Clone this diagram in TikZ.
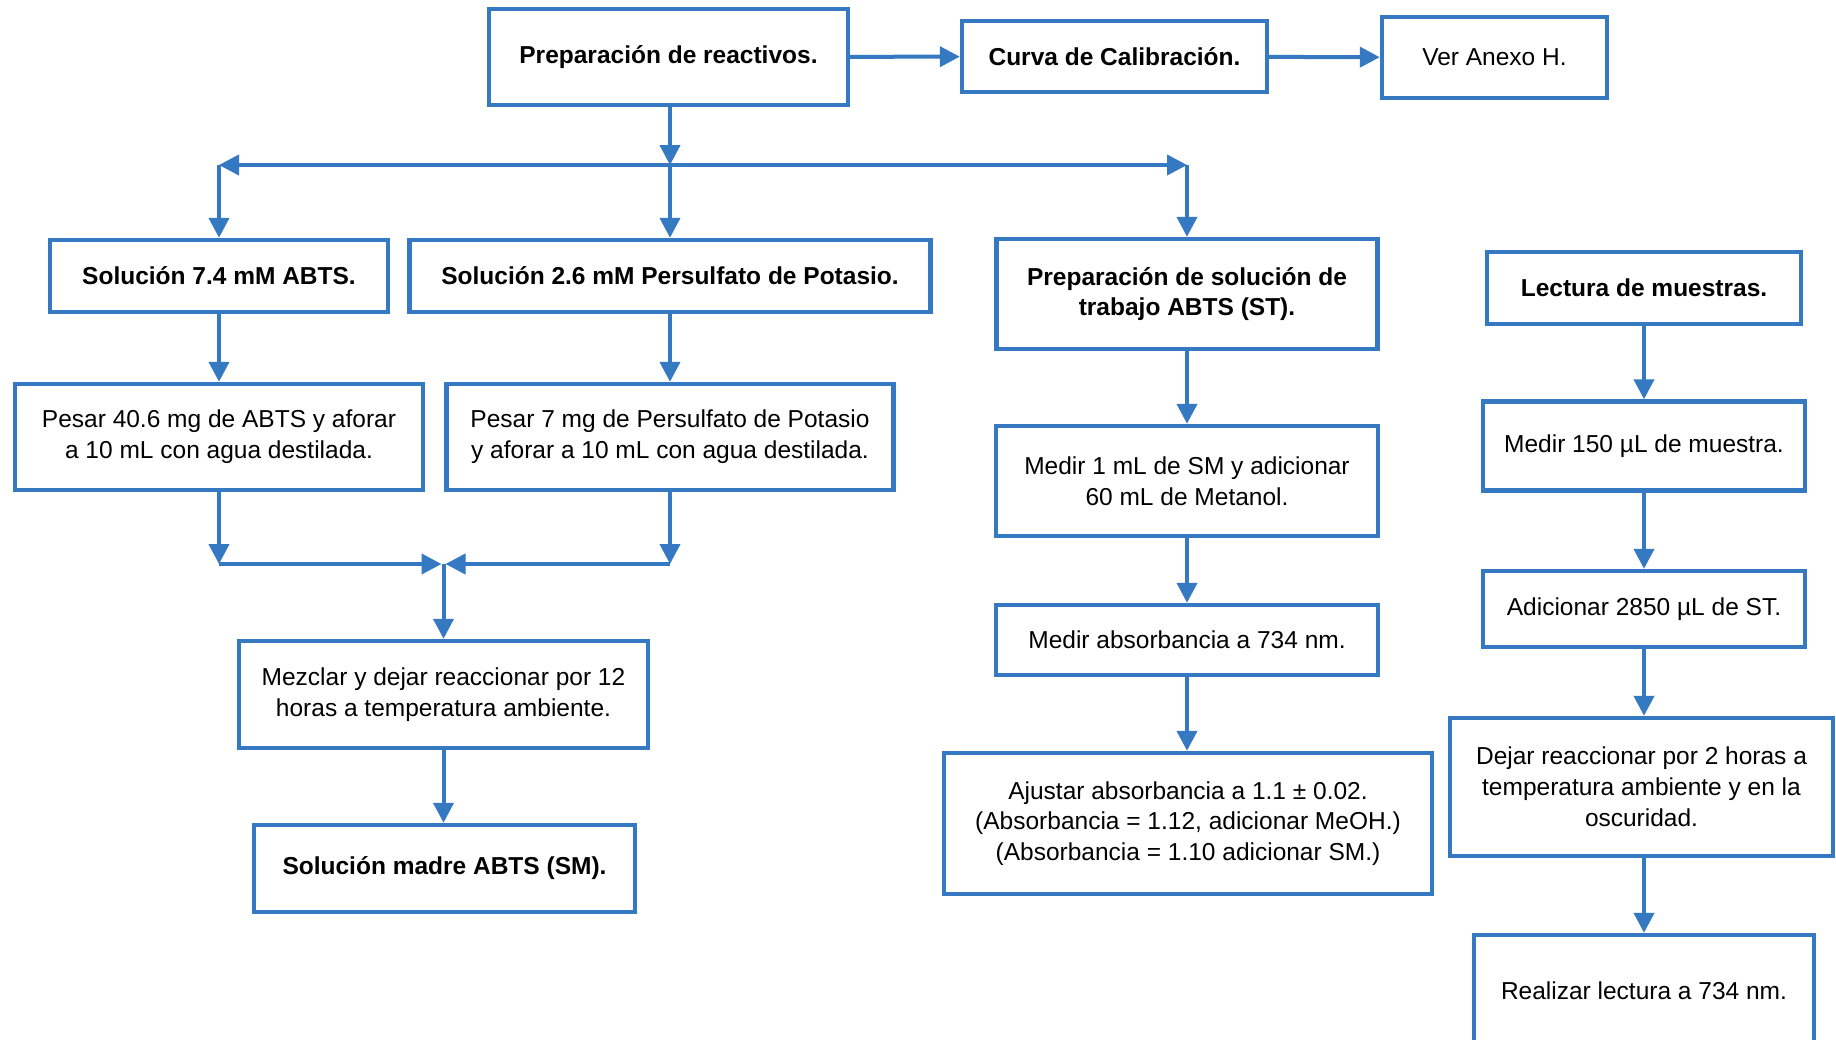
\documentclass[tikz,border=0pt]{standalone}
\usepackage{fontspec}
\setmainfont{Liberation Sans}
\usetikzlibrary{arrows.meta}
\definecolor{bl}{RGB}{52,121,193}
\newcommand\fsz{\fontsize{12.25pt}{15.4pt}\selectfont}
\begin{document}
\begin{tikzpicture}[x=0.5pt,y=-0.5pt,
  bx/.style={draw=bl,line width=2.2pt,fill=white,inner sep=0pt,align=center,font=\fsz,text=black},
  bbx/.style={bx,font=\fsz\bfseries},
  arr/.style={draw=bl,line width=2pt,-{Triangle[length=10pt,width=10pt]}},
  ln/.style={draw=bl,line width=2pt}]
\clip (0,0) rectangle (1836,1039);
\fill[white] (0,0) rectangle (1836,1039);
% top row
\node[bbx,minimum width=179.5pt,minimum height=48pt] (prep) at (668.5,57) {Preparación de reactivos.};
\node[bbx,minimum width=152.5pt,minimum height=35.5pt] (curva) at (1114.5,56.5) {Curva de Calibración.};
\node[bx,minimum width=112.5pt,minimum height=40.5pt] (anexo) at (1494.5,57.5) {Ver Anexo H.};
% second row
\node[bbx,minimum width=169pt,minimum height=36pt] (s74) at (219,276) {Solución 7.4 mM ABTS.};
\node[bbx,minimum width=260.5pt,minimum height=36pt] (s26) at (670,276) {Solución 2.6 mM Persulfato de Potasio.};
\node[bbx,minimum width=190.5pt,minimum height=55pt] (pst) at (1187,294) {Preparación de solución de\\trabajo ABTS (ST).};
\node[bbx,minimum width=157pt,minimum height=36pt] (lect) at (1644,288) {Lectura de muestras.};
% third row
\node[bx,minimum width=204pt,minimum height=53pt] (p40) at (219,437) {Pesar 40.6 mg de ABTS y aforar\\a 10 mL con agua destilada.};
\node[bx,minimum width=223.5pt,minimum height=53pt] (p7) at (670,437) {Pesar 7 mg de Persulfato de Potasio\\y aforar a 10 mL con agua destilada.};
\node[bx,minimum width=191pt,minimum height=55pt] (m1) at (1187,481) {Medir 1 mL de SM y adicionar\\60 mL de Metanol.};
\node[bx,minimum width=161pt,minimum height=44.5pt] (m150) at (1644,446) {Medir 150 µL de muestra.};
\node[bx,minimum width=191pt,minimum height=35pt] (mabs) at (1187,640) {Medir absorbancia a 734 nm.};
\node[bx,minimum width=161pt,minimum height=38pt] (a2850) at (1644,609) {Adicionar 2850 µL de ST.};
\node[bx,minimum width=204.5pt,minimum height=53.5pt] (mez) at (443.5,694.5) {Mezclar y dejar reaccionar por 12\\horas a temperatura ambiente.};
\node[bx,minimum width=244pt,minimum height=70.5pt] (ajus) at (1188,823.5) {Ajustar absorbancia a 1.1 ± 0.02.\\(Absorbancia = 1.12, adicionar MeOH.)\\(Absorbancia = 1.10 adicionar SM.)};
\node[bx,minimum width=191.5pt,minimum height=69pt] (dejar) at (1641.5,787) {Dejar reaccionar por 2 horas a\\temperatura ambiente y en la\\oscuridad.};
\node[bbx,minimum width=190.5pt,minimum height=43.5pt] (sm) at (444.5,868.5) {Solución madre ABTS (SM).};
\node[bx,minimum width=170pt,minimum height=56pt] (real) at (1644,991) {Realizar lectura a 734 nm.};
% junctions
\coordinate (tm) at (670,165);
\coordinate (tl) at (219,165);
\coordinate (tr) at (1187,165);
\coordinate (jl) at (219,564);
\coordinate (jr) at (670,564);
\coordinate (jm) at (443.5,564);
% connectors
\draw[arr] (prep) -- (curva);
\draw[arr] (curva) -- (anexo);
\draw[arr] (prep.south -| tm) -- (tm);
\draw[arr] (tm) -- (tl);
\draw[arr] (tm) -- (tr);
\draw[arr] (tl) -- (s74.north);
\draw[arr] (tm) -- (s26.north);
\draw[arr] (tr) -- (pst.north);
\draw[arr] (s74.south) -- (p40.north);
\draw[arr] (s26.south) -- (p7.north);
\draw[arr] (p40.south) -- (jl);
\draw[arr] (p7.south) -- (jr);
\draw[arr] (jl) -- ([xshift=-1pt]jm);
\draw[arr] (jr) -- ([xshift=1pt]jm);
\draw[arr] (jm) -- (mez.north);
\draw[arr] (mez.south) -- (sm.north -| mez.south);
\draw[arr] (pst.south) -- (m1.north);
\draw[arr] (m1.south) -- (mabs.north);
\draw[arr] (mabs.south) -- (ajus.north -| mabs.south);
\draw[arr] (lect.south) -- (m150.north);
\draw[arr] (m150.south) -- (a2850.north);
\draw[arr] (a2850.south) -- (dejar.north -| a2850.south);
\draw[arr] (dejar.south -| a2850.south) -- (real.north);
\end{tikzpicture}
\end{document}
